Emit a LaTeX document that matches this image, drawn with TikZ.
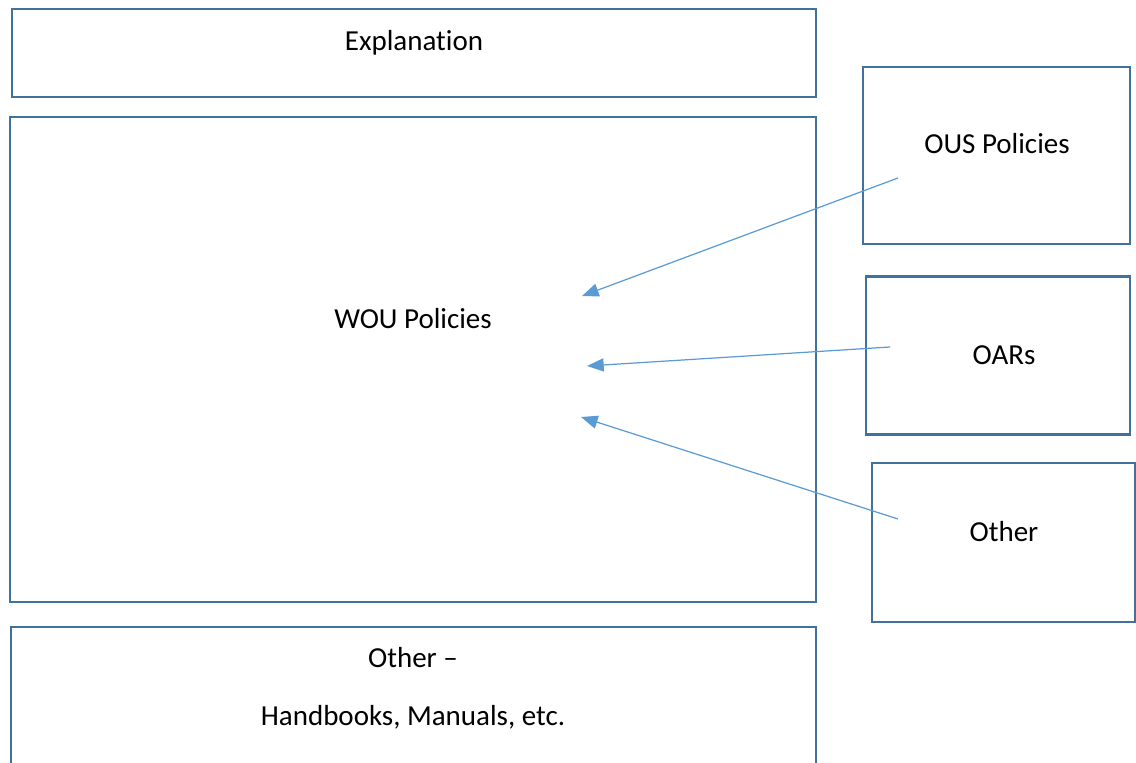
\documentclass[tikz,border=0pt]{standalone}
\usepackage{fontspec}
\setmainfont[Ligatures=NoCommon]{Carlito}
\usetikzlibrary{arrows.meta}
\definecolor{boxblue}{HTML}{41719C}
\definecolor{arrowblue}{HTML}{5B9BD5}
\tikzset{
  pbox/.style={draw=boxblue, line width=1.5pt, fill=none, inner sep=0pt},
  ptext/.style={font=\fontsize{16.5}{20}\selectfont, text=black, inner sep=0pt},
  feed/.style={draw=arrowblue, line width=0.7pt, -{Triangle[length=9.5pt,width=7.5pt]}}
}
\begin{document}
\begin{tikzpicture}[x=0.02cm, y=-0.02cm]
        \useasboundingbox (0,0) rectangle (1136,763);
        \clip (0,0) rectangle (1136,763);
        % boxes
        \node[pbox, minimum width=804*0.02cm, minimum height=88*0.02cm] (expl) at (414,53) {};
        \node[pbox, minimum width=806*0.02cm, minimum height=485*0.02cm] (wou) at (413,359.5) {};
        \node[pbox, minimum width=805*0.02cm, minimum height=146*0.02cm] (hand) at (413.5,700) {};
        \node[pbox, minimum width=267*0.02cm, minimum height=177*0.02cm] (ous) at (996.5,155.5) {};
        \node[pbox, minimum width=264*0.02cm, minimum height=158*0.02cm] (oar) at (998,355.5) {};
        \node[pbox, minimum width=263*0.02cm, minimum height=159*0.02cm] (oth) at (1003.5,542.5) {};
        % labels
        \node[ptext] (explt) at (414,43) {Explanation};
        \node[ptext] (wout) at (413,319) {WOU Policies};
        \node[ptext] (handa) at (413,658) {Other –};
        \node[ptext] (handb) at (413,717) {Handbooks, Manuals, etc.};
        \node[ptext] (oust) at (997,144) {OUS Policies};
        \node[ptext] (oart) at (1004,355) {OARs};
        \node[ptext] (otht) at (1004,532) {Other};
        % arrows into WOU Policies
        \coordinate (ousfrom) at (898,178);
        \coordinate (oarfrom) at (890,347);
        \coordinate (othfrom) at (898,519);
        \coordinate (ousto) at (582,296);
        \coordinate (oarto) at (587,366);
        \coordinate (othto) at (581,417);
        \draw[feed] (ousfrom) -- (ousto);
        \draw[feed] (oarfrom) -- (oarto);
        \draw[feed] (othfrom) -- (othto);
    \end{tikzpicture}
\end{document}
